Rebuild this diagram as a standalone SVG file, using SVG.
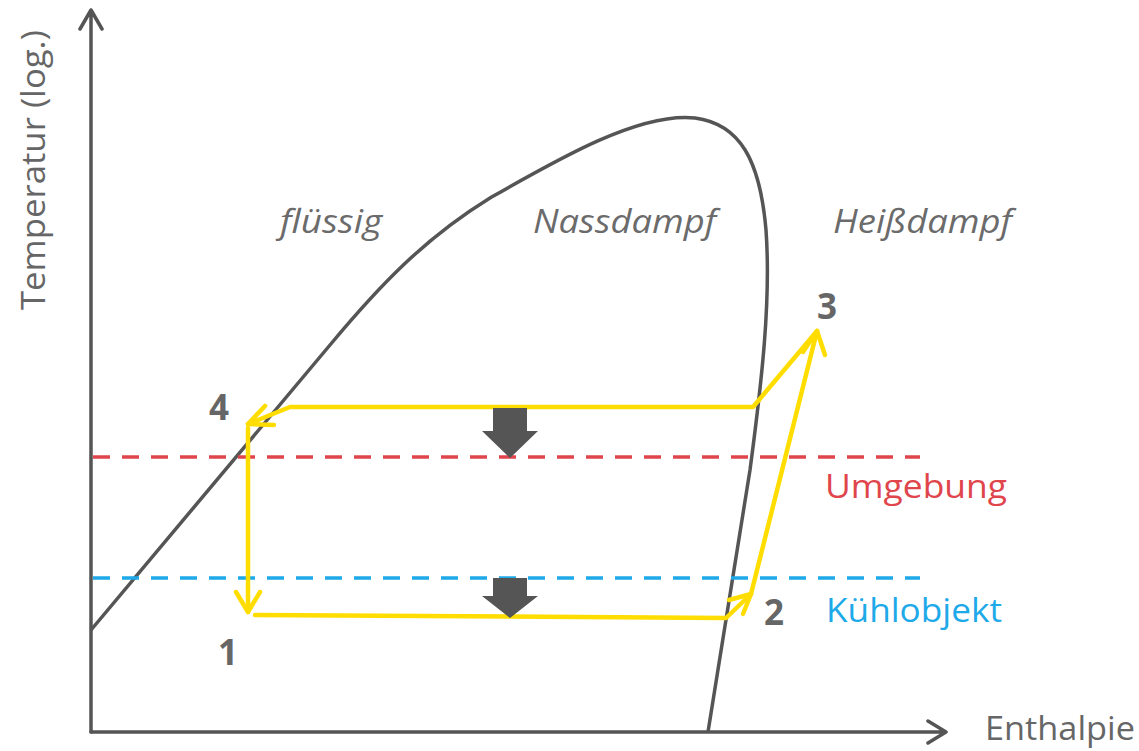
<svg xmlns="http://www.w3.org/2000/svg" width="1139" height="751" viewBox="0 0 1139 751">
<style>
.ax{fill:none;stroke:#555;stroke-width:3.5;stroke-linecap:round;stroke-linejoin:round}
.cy{fill:none;stroke:#FFDD00;stroke-width:4.5;stroke-linecap:round;stroke-linejoin:round}
.lbl{font-family:"Open Sans","Liberation Sans",sans-serif;font-style:italic;font-size:33px;fill:#6b6b6b}
.num{font-family:"Open Sans","Liberation Sans",sans-serif;font-weight:bold;font-size:35px;fill:#666}
.ttl{font-family:"Open Sans","Liberation Sans",sans-serif;font-size:33px}
.blk{fill:#555}
</style>
<g id="axes">
<path class="ax" d="M91,732 V10 M80,29 L91,10 L102,29"/>
<path class="ax" d="M91,732 H945 M928,721 L946,732 L928,743"/>
<text class="ttl" fill="#666" transform="translate(45,170) rotate(-90)" text-anchor="middle" textLength="280" lengthAdjust="spacingAndGlyphs">Temperatur (log.)</text>
<text class="ttl" fill="#666" x="985" y="740" textLength="150" lengthAdjust="spacingAndGlyphs">Enthalpie</text>
</g>
<g id="curve">
<path fill="none" stroke="#555" stroke-width="3.5" d="M91,630 L330,345 C380,285 425,238 490,198 C560,158 640,112 695,118 C740,124 760,160 766,230 C771,300 762,380 750,470 L708,732"/>
</g>
<g id="regions">
<text class="lbl" x="280" y="233" textLength="102" lengthAdjust="spacingAndGlyphs">flüssig</text>
<text class="lbl" x="533" y="233" textLength="183" lengthAdjust="spacingAndGlyphs">Nassdampf</text>
<text class="lbl" x="833" y="233" textLength="179" lengthAdjust="spacingAndGlyphs">Heißdampf</text>
</g>
<g id="limits">
<line x1="93" y1="457" x2="920" y2="457" stroke="#E0454C" stroke-width="3.5" stroke-dasharray="17,12"/>
<line x1="93" y1="578" x2="920" y2="578" stroke="#1EA9E9" stroke-width="3.5" stroke-dasharray="17,12"/>
<text class="ttl" fill="#E0454C" x="825" y="498" textLength="182" lengthAdjust="spacingAndGlyphs">Umgebung</text>
<text class="ttl" fill="#1EA9E9" x="826" y="622" textLength="176" lengthAdjust="spacingAndGlyphs">Kühlobjekt</text>
</g>
<g id="connectors">
<path class="cy" d="M817,331 L753,407 H290 L248,424"/>
<path class="cy" d="M265,406 L248,424 L274,425"/>
<path class="cy" d="M248,428 V612"/>
<path class="cy" d="M236,592 L248,612 L260,592"/>
<path class="cy" d="M255,615 L726,618 L751,594"/>
<path class="cy" d="M729,600 L751,594 L743,614"/>
<path class="cy" d="M751,594 L817,331"/>
<path class="cy" d="M803,352 L817,331 L825,355"/>
</g>
<g id="heat-arrows">
<path class="blk" d="M493,408 H527 V431 H538 L510,458 L482,431 H493 Z"/>
<path class="blk" d="M493,578 H527 V596 H538 L510,618 L482,596 H493 Z"/>
</g>
<g id="points">
<text class="num" x="209" y="420">4</text>
<text class="num" x="817" y="319">3</text>
<text class="num" x="764" y="625">2</text>
<text class="num" x="218" y="665">1</text>
</g>
</svg>
